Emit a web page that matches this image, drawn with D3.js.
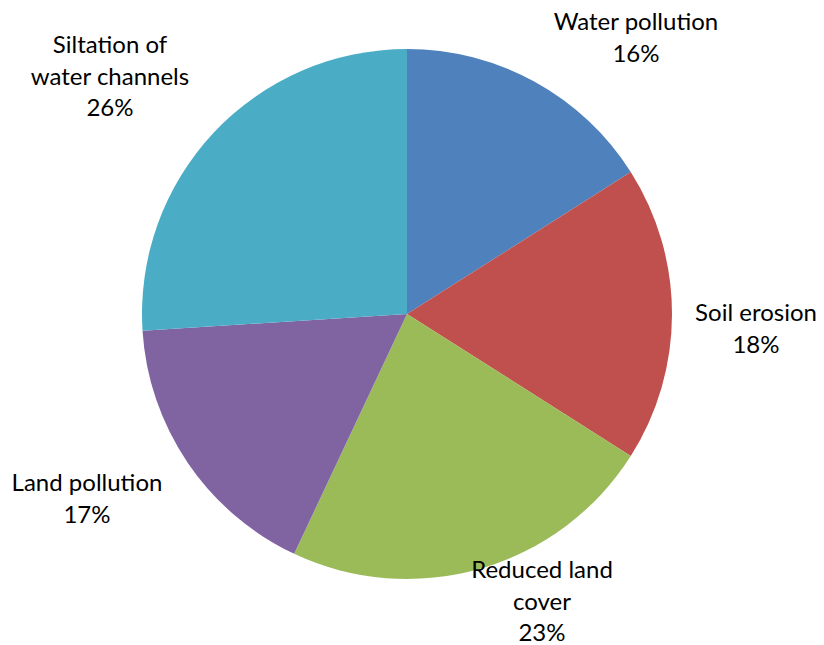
<!DOCTYPE html>
<html>
<head>
<meta charset="utf-8">
<script src="https://cdn.jsdelivr.net/npm/d3@7"></script>
<style>
  html, body { margin: 0; padding: 0; background: #ffffff; }
  svg { display: block; }
  text { font-family: Lato, "Open Sans", "Noto Sans", sans-serif; fill: #000; }
</style>
</head>
<body>
<svg id="chart" width="824" height="645"></svg>
<script>
// Environmental impacts, share of responses (%)
const categories = ["Water pollution", "Soil erosion", "Reduced land cover", "Land pollution", "Siltation of water channels"];
const values = [16, 18, 23, 17, 26];
const colors = ["#4F81BD", "#C0504D", "#9BBB59", "#8064A2", "#4BACC6"];
// Label lines as they wrap in the chart
const labelLines = [
  ["Water pollution"],
  ["Soil erosion"],
  ["Reduced land", "cover"],
  ["Land pollution"],
  ["Siltation of", "water channels"]
];
// Label anchor (centre of the first line's baseline)
const labelPos = [
  [636, 30],
  [756, 321],
  [542, 578],
  [87, 491],
  [110, 53]
];

const svg = d3.select("#chart");
const cx = 407, cy = 314, radius = 265;
const lineHeight = 31.5;

const data = categories.map((c, i) => ({ name: c, value: values[i], i }));

const pie = d3.pie().value(d => d.value).sort(null);
const arc = d3.arc().innerRadius(0).outerRadius(radius);
const color = d3.scaleOrdinal().domain(categories).range(colors);

const g = svg.append("g").attr("transform", `translate(${cx},${cy})`);
g.selectAll("path")
  .data(pie(data))
  .join("path")
  .attr("d", arc)
  .attr("fill", d => color(d.data.name));

const labels = svg.append("g").attr("font-size", 24).attr("text-anchor", "middle");
data.forEach((d, i) => {
  const lines = labelLines[i].concat([d.value + "%"]);
  const t = labels.append("text")
    .attr("x", labelPos[i][0])
    .attr("y", labelPos[i][1]);
  lines.forEach((ln, k) => {
    t.append("tspan")
      .attr("x", labelPos[i][0])
      .attr("y", labelPos[i][1] + k * lineHeight)
      .text(ln);
  });
});
</script>
</body>
</html>
